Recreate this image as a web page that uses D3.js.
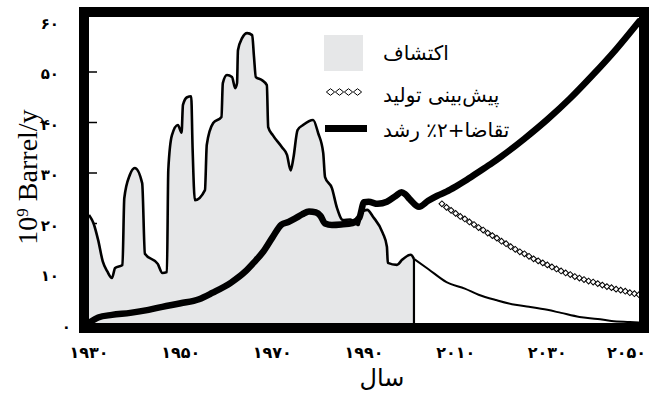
<!DOCTYPE html>
<html><head><meta charset="utf-8">
<script src="https://cdn.jsdelivr.net/npm/d3@7"></script>
<style>html,body{margin:0;padding:0;background:#fff;}svg{display:block;}</style>
</head><body>
<svg id="chart" width="657" height="399"></svg>
<script>
// ---------- data ----------
const discoveryYears = [1930, 1931, 1932, 1933, 1934, 1935, 1935.7, 1937.3, 1937.7, 1938.9, 1940, 1941.6, 1942.2, 1945, 1946, 1947, 1947.3, 1948.1, 1949.4, 1950.2, 1950.5, 1951.4, 1952.3, 1952.6, 1953.1, 1955.3, 1955.7, 1957.1, 1958.9, 1959.2, 1960.1, 1961.2, 1961.9, 1962.3, 1962.5, 1963.4, 1964.5, 1965.6, 1966, 1966.4, 1967.7, 1968.8, 1969.1, 1970.1, 1972.1, 1973.2, 1974, 1974.6, 1975.5, 1976.7, 1978.9, 1980, 1981.1, 1981.5, 1983, 1984.1, 1985.4, 1987, 1988.8, 1989.5, 1990.7, 1992, 1994.1, 1995, 1995.2, 1997.2, 1998.3, 2000.2, 2000.9];
const discoveryValues = [21.7, 20, 16.7, 12.5, 10.5, 9.2, 11.2, 11.8, 25, 29.6, 31, 28, 14, 12, 10.2, 10.4, 30.6, 37.5, 39.5, 38, 43.5, 45, 45.2, 35, 24.6, 26.6, 35.6, 39.9, 41.1, 47.8, 49.4, 49, 46.8, 47.8, 54.3, 56.7, 57.7, 57.3, 53, 49, 48.4, 47.4, 39.1, 37.5, 35.1, 33.6, 30.5, 33, 38.5, 39.5, 40.5, 37.9, 34, 29.2, 27, 23.1, 20.7, 20.8, 19.7, 22.3, 22.7, 21.3, 18.1, 15.4, 12.2, 11.8, 12.8, 13.8, 13];

const discoveryForecastYears = [2000.9, 2004, 2008, 2012, 2015, 2019, 2023, 2026, 2030, 2033, 2037, 2041, 2044, 2048, 2050];
const discoveryForecastValues = [13, 11, 8.4, 7.1, 5.9, 4.8, 3.9, 3.5, 2.9, 2.3, 1.5, 1.1, 0.7, 0.5, 0.4];

const productionForecastYears = [2007, 2008, 2009, 2010, 2011, 2012, 2013, 2014, 2015, 2016, 2017, 2018, 2019, 2020, 2021, 2022, 2023, 2024, 2025, 2026, 2027, 2028, 2029, 2030, 2031, 2032, 2033, 2034, 2035, 2036, 2037, 2038, 2039, 2040, 2041, 2042, 2043, 2044, 2045, 2046, 2047, 2048, 2049, 2050];
const productionForecastValues = [23.9, 23.2, 22.6, 22.0, 21.4, 20.9, 20.3, 19.8, 19.2, 18.7, 18.1, 17.6, 17.1, 16.5, 16.0, 15.4, 14.9, 14.4, 14.0, 13.5, 13.0, 12.6, 12.2, 11.8, 11.4, 11.0, 10.6, 10.2, 9.9, 9.5, 9.2, 8.9, 8.6, 8.4, 8.1, 7.8, 7.5, 7.3, 7.0, 6.8, 6.6, 6.3, 6.1, 5.9];

const demandYears = [1930, 1932, 1935, 1939, 1943, 1946, 1950, 1954, 1957, 1961, 1964, 1966, 1968, 1970, 1972, 1973.5, 1975, 1976.5, 1978, 1979.5, 1980.5, 1981.5, 1983, 1985, 1987.5, 1989, 1990, 1991, 1993, 1995, 1997, 1998.2, 1999, 2000, 2002, 2004, 2006, 2008, 2010, 2012, 2015, 2018, 2020, 2025, 2030, 2035, 2040, 2045, 2050];
const demandValues = [0.3, 1.4, 1.9, 2.3, 2.9, 3.5, 4.2, 5.0, 6.3, 8.3, 10.4, 12.3, 14.4, 17.2, 19.8, 20.3, 21, 21.8, 22.4, 22.2, 21.5, 20, 19.7, 19.8, 20.1, 21.2, 24.2, 24.3, 23.9, 24.3, 25.5, 26.2, 25.8, 24.8, 23.3, 24.5, 25.5, 26.3, 27.3, 28.4, 30.2, 32.0, 33.3, 36.8, 40.6, 44.8, 49.5, 54.5, 60];

const xTickValues = [1930, 1950, 1970, 1990, 2010, 2030, 2050];
const xTickLabels = ["۱۹۳۰", "۱۹۵۰", "۱۹۷۰", "۱۹۹۰", "۲۰۱۰", "۲۰۳۰", "۲۰۵۰"];
const yTickValues = [0, 10, 20, 30, 40, 50, 60];
const yTickLabels = ["۰", "۱۰", "۲۰", "۳۰", "۴۰", "۵۰", "۶۰"];
const tickMarkValues = [10, 20, 30, 40, 50];

const legendLabels = ["اکتشاف", "پیش‌بینی تولید", "تقاضا+۲٪ رشد"];
const xTitle = "سال";

// ---------- layout ----------
const svg = d3.select("#chart");
const inner = {left: 89, top: 17, right: 639, bottom: 323};
const x = d3.scaleLinear().domain([1930, 2050]).range([inner.left, inner.right]);
const y = d3.scaleLinear().domain([0, 60]).range([324.5, 21.5]);
const faFont = "'DejaVu Sans', sans-serif";

const zip = (a, b) => a.map((v, i) => ({year: v, value: b[i]}));
const discovery = zip(discoveryYears, discoveryValues);
const discoveryForecast = zip(discoveryForecastYears, discoveryForecastValues);
const production = zip(productionForecastYears, productionForecastValues);
const demand = zip(demandYears, demandValues);

svg.append("defs").append("clipPath").attr("id", "plotclip")
  .append("rect").attr("x", inner.left).attr("y", inner.top)
  .attr("width", inner.right - inner.left).attr("height", inner.bottom - inner.top);

const plot = svg.append("g").attr("clip-path", "url(#plotclip)");

plot.selectAll("line.tick").data(tickMarkValues).enter().append("line")
  .attr("x1", inner.left).attr("x2", inner.left + 8)
  .attr("y1", d => y(d)).attr("y2", d => y(d))
  .attr("stroke", "#000").attr("stroke-width", 1.5);

const curve = d3.curveMonotoneX;
const area = d3.area().x(d => x(d.year)).y0(y(0)).y1(d => y(d.value)).curve(curve);
const line = d3.line().x(d => x(d.year)).y(d => y(d.value)).curve(curve);

plot.append("path").datum(discovery).attr("d", area).attr("fill", "#e6e7e8");
plot.append("path").datum(discovery).attr("d", line)
  .attr("fill", "none").attr("stroke", "#000").attr("stroke-width", 2.6).attr("stroke-linejoin", "round");
const last = discovery[discovery.length - 1];
plot.append("path").datum([last, {year: last.year, value: 0}])
  .attr("d", d3.line().x(d => x(d.year)).y(d => y(d.value)))
  .attr("stroke", "#000").attr("stroke-width", 2.2).attr("fill", "none");

plot.append("path").datum(discoveryForecast).attr("d", line)
  .attr("fill", "none").attr("stroke", "#000").attr("stroke-width", 2);

const diamond = d3.symbol().type(d3.symbolSquare).size(17);
plot.selectAll("path.prod").data(production).enter().append("path")
  .attr("d", diamond)
  .attr("transform", d => `translate(${x(d.year)},${y(d.value)}) rotate(45)`)
  .attr("fill", "#fff").attr("stroke", "#000").attr("stroke-width", 1);

plot.append("path").datum(demand).attr("d", line)
  .attr("fill", "none").attr("stroke", "#000").attr("stroke-width", 6.5)
  .attr("stroke-linejoin", "round").attr("stroke-linecap", "round");

// frame
svg.append("rect").attr("x", 84).attr("y", 12).attr("width", 560).attr("height", 316)
  .attr("fill", "none").attr("stroke", "#000").attr("stroke-width", 10);

// y tick labels
svg.selectAll("text.ylab").data(yTickValues).enter().append("text")
  .attr("x", d => d === 0 ? 71 : 59).attr("y", d => y(d) + 7)
  .attr("text-anchor", "end").attr("font-family", faFont).attr("font-weight", "bold")
  .attr("font-size", 15).text((d, i) => yTickLabels[i]);

// x tick labels
const xl = svg.selectAll("text.xlab").data(xTickValues).enter().append("text")
  .attr("x", d => x(d)).attr("y", 358)
  .attr("text-anchor", "middle").attr("font-family", faFont).attr("font-weight", "bold")
  .attr("font-size", 16).text((d, i) => xTickLabels[i]);
xl.each(function() {
  const b = this.getBBox();
  if (b.x + b.width > 646) d3.select(this).attr("x", +d3.select(this).attr("x") - (b.x + b.width - 646));
});

// axis titles
svg.append("text").attr("x", 382).attr("y", 386).attr("text-anchor", "middle")
  .attr("font-family", faFont).attr("font-size", 24).text(xTitle);

const yt = svg.append("text").attr("transform", "translate(37,177) rotate(-90)")
  .attr("text-anchor", "middle").attr("font-family", "'Liberation Serif', serif").attr("font-size", 28);
yt.append("tspan").text("10");
yt.append("tspan").attr("baseline-shift", "super").attr("font-size", 17).text("9");
yt.append("tspan").text(" Barrel/y");

// legend
const lg = svg.append("g");
lg.append("rect").attr("x", 324).attr("y", 35).attr("width", 39).attr("height", 36).attr("fill", "#e6e7e8");
const legDiamond = d3.symbol().type(d3.symbolSquare).size(34);
lg.selectAll("path.ld").data(d3.range(4)).enter().append("path")
  .attr("d", legDiamond)
  .attr("transform", i => `translate(${330.5 + i * 9},92) scale(1,0.8) rotate(45)`)
  .attr("fill", "#fff").attr("stroke", "#000").attr("stroke-width", 1);
lg.append("rect").attr("x", 325).attr("y", 125).attr("width", 42).attr("height", 7).attr("fill", "#000");
const legY = [60, 102, 137];
legendLabels.forEach((label, i) => {
  const t = lg.append("text").attr("x", 383).attr("y", legY[i])
    .attr("font-family", faFont).attr("font-size", 20).text(label);
  // keep the left edge of every label at the same place
  const b = t.node().getBBox();
  t.attr("x", 383 - (b.x - 383));
});
</script>
</body></html>
